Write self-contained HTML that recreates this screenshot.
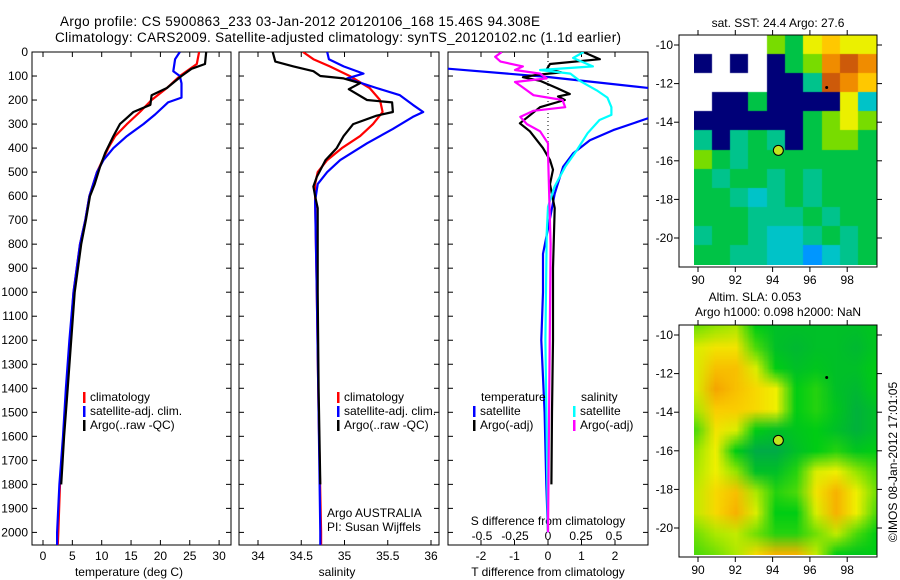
<!DOCTYPE html>
<html><head><meta charset="utf-8">
<style>
html,body{margin:0;padding:0;background:#fff;}
#wrap{position:relative;width:900px;height:580px;overflow:hidden;font-family:"Liberation Sans",Arial,sans-serif;}
svg{position:absolute;left:0;top:0;}
canvas{position:absolute;}
text{font-family:"Liberation Sans",Arial,sans-serif;font-size:12px;fill:#000;}
</style></head>
<body>
<div id="wrap">
<canvas id="map1" width="183" height="230" style="left:694px;top:35px;width:183px;height:230px"></canvas>
<canvas id="map2" width="183" height="230" style="left:694px;top:325px;width:183px;height:230px"></canvas>
<svg id="svg" width="900" height="580"></svg>
</div>
<script>
// ---------- data ----------
const tempClimDepth = [0,50,100,150,200,250,300,350,400,500,600,700,800,1000,1200,1400,1600,1800,2000,2060];
const tempClim      = [26.6,26.2,23.3,21.1,18.5,16.5,14.3,12.3,11.1,9.2,7.9,7.2,6.3,5.2,4.6,4.0,3.5,2.9,2.6,2.5];
const tempSatDepth  = [0,30,80,100,130,190,210,260,300,350,400,450,500,600,700,800,1000,1200,1400,1600,1800,2000,2060];
const tempSat       = [23.3,22.5,22.2,23.3,23.6,23.6,21.3,19.1,17.1,14.3,12.0,10.3,9.2,7.9,7.2,6.3,5.2,4.5,3.9,3.4,2.8,2.4,2.4];
const tempArgoDepth = [0,50,70,100,150,180,220,250,300,350,420,480,550,600,700,800,1000,1200,1400,1600,1800];
const tempArgo      = [27.8,27.6,25.3,23.6,21.1,18.5,18.3,15.4,13.1,12.0,10.6,9.7,8.8,8.0,7.3,6.5,5.4,4.8,4.2,3.6,3.1];

const salClimDepth = [0,30,60,100,150,200,250,300,350,400,450,500,550,600,1000,1500,2000,2060];
const salClim      = [34.52,34.64,34.83,35.06,35.29,35.41,35.44,35.33,35.18,34.97,34.80,34.69,34.66,34.66,34.68,34.70,34.73,34.73];
const salSatDepth  = [0,30,60,90,110,150,180,220,250,270,320,380,450,500,550,620,1000,1500,2000,2060];
const salSat       = [34.80,34.82,34.99,35.22,35.03,35.37,35.64,35.79,35.91,35.79,35.56,35.26,34.95,34.80,34.69,34.66,34.68,34.70,34.72,34.72];
const salArgoDepth = [0,40,60,80,100,110,130,155,200,210,250,265,300,350,400,450,520,560,600,650,700,1000,1400,1800];
const salArgo      = [34.17,34.20,34.41,34.64,34.72,34.99,35.18,35.05,35.26,35.55,35.56,35.37,35.10,34.99,34.91,34.78,34.68,34.64,34.66,34.69,34.69,34.69,34.70,34.72];

const dTSatDepth  = [67,104,150,200,275,325,367,422,478,590,700,840,1000,1200,1500,1800,2000];
const dTSat       = [-3.2,0.0,3.0,4.5,3.0,1.95,1.25,0.75,0.45,0.2,0.05,-0.15,-0.15,-0.2,-0.1,-0.05,0.0];
const dSSatDepth  = [0,25,60,75,90,120,160,190,230,262,283,338,408,478,560,645,755,1200,2000];
const dSSat       = [0.27,0.19,0.34,-0.06,0.17,0.24,0.37,0.45,0.48,0.48,0.39,0.30,0.22,0.13,0.05,0.0,-0.01,-0.02,0.0];
const dTArgoDepth = [0,30,50,70,85,95,105,120,150,175,185,200,230,297,330,400,450,490,550,650,900,1200,1500,1800];
const dTArgo      = [1.05,1.55,0.06,-0.03,0.4,-0.33,-0.75,-0.24,0.26,0.65,0.3,0.5,-0.24,-0.84,-0.54,-0.15,0.06,0.15,0.06,0.2,0.15,0.15,0.12,0.1];
const dSArgoDepth = [0,20,40,60,75,90,110,125,140,160,180,200,230,245,270,300,330,380,420,800,1400,2000];
const dSArgo      = [-0.35,-0.4,-0.36,-0.19,-0.25,-0.06,-0.01,-0.25,-0.21,-0.16,-0.11,0.11,0.13,-0.11,-0.21,-0.16,-0.06,0.0,0.0,0.02,0.01,0.0];

const depthTicks = [0,100,200,300,400,500,600,700,800,900,1000,1100,1200,1300,1400,1500,1600,1700,1800,1900,2000];
const tempTicks = [0,5,10,15,20,25,30];
const salTicks = [34,34.5,35,35.5,36];
const salTickLabels = ["34","34.5","35","35.5","36"];
const dTTicks = [-2,-1,0,1,2];
const dSTicks = [-0.5,-0.25,0,0.25,0.5];
const dSTickLabels = ["-0.5","-0.25","0","0.25","0.5"];
const lonTicks = [90,92,94,96,98];
const latTicks = [-10,-12,-14,-16,-18,-20];

// SST map grid (rows lat -9.5 -> -21.4, cols lon 89.8 -> 99.6); W=no data, N=navy, 0-9 colour index
const sstRows = ["WWWW435655","NWNWN34787","WWWWNN2876","WNN3NNNN51","NNNNNN3454","2N232N3443",
                 "4323333333","3233232333","3321232333","3332223233","2332112323","3322110123"];
// SLA map grid values 0..1
const slaRows = [
 [0.45,0.5,0.55,0.3,0.2,0.2,0.2,0.2,0.2,0.25],
 [0.65,0.75,0.75,0.4,0.2,0.15,0.2,0.2,0.15,0.25],
 [0.65,0.9,0.9,0.65,0.3,0.2,0.25,0.2,0.2,0.3],
 [0.65,1.0,0.9,0.8,0.7,0.3,0.35,0.2,0.15,0.3],
 [0.55,0.85,0.85,0.8,0.7,0.3,0.35,0.25,0.1,0.2],
 [0.4,0.75,0.65,0.3,0.2,0.25,0.3,0.2,0.1,0.2],
 [0.5,0.7,0.3,0.05,0.05,0.2,0.3,0.35,0.25,0.3],
 [0.55,0.7,0.5,0.2,0.2,0.35,0.65,0.7,0.5,0.4],
 [0.6,0.8,0.9,0.55,0.35,0.4,0.75,0.95,0.7,0.45],
 [0.6,0.8,0.95,0.65,0.3,0.3,0.65,0.95,0.7,0.4],
 [0.45,0.55,0.6,0.45,0.35,0.35,0.45,0.6,0.4,0.3],
 [0.4,0.45,0.55,0.8,0.95,0.95,0.6,0.3,0.25,0.3]];
const argoLon = 94.308, argoLat = -15.46;

// ---------- scales ----------
const yD = d => 52 + d*0.2402;
const xT = t => 43 + t*5.87;
const xS = s => 258 + (s-34)*86.5;
const xDT = v => 548 + v*33.5;
const xDS = v => 548 + v*132;
const xLon = l => 698 + (l-90)*18.65;
const yLat1 = la => 45 + (-10-la)*19.3;
const yLat2 = la => 335 + (-10-la)*19.3;

const NS = "http://www.w3.org/2000/svg";
const svg = document.getElementById('svg');
function mk(tag, attrs, name, parent){
  const el = document.createElementNS(NS, tag);
  for (const k in attrs) el.setAttribute(k, attrs[k]);
  
  
  (parent||svg).appendChild(el);
  return el;
}
function txt(x,y,s,name,anchor,size,extra){
  const a = {x:x,y:y,'text-anchor':anchor||'start'};
  if (size) a['style']='font-size:'+size+'px';
  if (extra) for (const k in extra) a[k]=extra[k];
  const t = mk('text', a, name);
  t.textContent = s;
  return t;
}
const defs = mk('defs',{},'clip-defs');
function clip(id,x,y,w,h){ const c = mk('clipPath',{id:id},'clip-'+id,defs); mk('rect',{x:x,y:y,width:w,height:h},'clip-rect',c); }
clip('c1',32,52,199,493); clip('c2',239,52,200,493); clip('c3',448,52,200,493);

function line(depths, vals, xf, color, name, cid, w){
  let d = '';
  for (let i=0;i<depths.length;i++) d += (i?'L':'M') + xf(vals[i]).toFixed(1) + ' ' + yD(depths[i]).toFixed(1);
  mk('path',{d:d,fill:'none',stroke:color,'stroke-width':w||2.2,'clip-path':'url(#'+cid+')','stroke-linejoin':'round'},name);
}

// ---------- titles ----------
txt(60,26,"Argo profile: CS 5900863_233 03-Jan-2012 20120106_168 15.46S 94.308E",'title-line-1','start',13.5,{textLength:480});
txt(55,42,"Climatology: CARS2009. Satellite-adjusted climatology: synTS_20120102.nc (1.1d earlier)",'title-line-2','start',13.5,{textLength:566});

// ---------- profile panels ----------
const panels = [[32,199,'c1'],[239,200,'c2'],[448,200,'c3']];
panels.forEach((p,i)=>{
  mk('rect',{x:p[0],y:52,width:p[1],height:493,fill:'none',stroke:'#000','stroke-width':1},'profile-panel-frame');
  depthTicks.forEach(d=>{
    mk('line',{x1:p[0],x2:p[0]+5,y1:yD(d),y2:yD(d),stroke:'#000'},'depth-tick');
    mk('line',{x1:p[0]+p[1]-5,x2:p[0]+p[1],y1:yD(d),y2:yD(d),stroke:'#000'},'depth-tick');
  });
});
depthTicks.forEach(d=> txt(28,yD(d)+4,String(d),'depth-tick-label','end'));

tempTicks.forEach(t=>{
  mk('line',{x1:xT(t),x2:xT(t),y1:545,y2:540,stroke:'#000'},'temp-tick');
  mk('line',{x1:xT(t),x2:xT(t),y1:52,y2:57,stroke:'#000'},'temp-tick-top');
  txt(xT(t),560,String(t),'temp-tick-label','middle');
});
txt(129,576,"temperature (deg C)",'temp-axis-title','middle');
salTicks.forEach((s,i)=>{
  mk('line',{x1:xS(s),x2:xS(s),y1:545,y2:540,stroke:'#000'},'sal-tick');
  mk('line',{x1:xS(s),x2:xS(s),y1:52,y2:57,stroke:'#000'},'sal-tick-top');
  txt(xS(s),560,salTickLabels[i],'sal-tick-label','middle');
});
txt(337,576,"salinity",'sal-axis-title','middle');
dTTicks.forEach(v=>{
  mk('line',{x1:xDT(v),x2:xDT(v),y1:545,y2:540,stroke:'#000'},'dT-tick');
  mk('line',{x1:xDT(v),x2:xDT(v),y1:52,y2:57,stroke:'#000'},'dT-tick-top');
  txt(xDT(v),560,String(v),'dT-tick-label','middle');
});
dSTicks.forEach((v,i)=> txt(xDS(v),540,dSTickLabels[i],'dS-tick-label','middle'));
txt(548,525,"S difference from climatology",'dS-axis-title','middle');
txt(548,576,"T difference from climatology",'dT-axis-title','middle');
mk('line',{x1:548,x2:548,y1:53,y2:143,stroke:'#000','stroke-dasharray':'1 3'},'zero-dotted-line');

line(tempClimDepth,tempClim,xT,'#f00','temp-climatology-line','c1');
line(tempSatDepth,tempSat,xT,'#00f','temp-satellite-line','c1');
line(tempArgoDepth,tempArgo,xT,'#000','temp-argo-line','c1');
line(salClimDepth,salClim,xS,'#f00','sal-climatology-line','c2');
line(salSatDepth,salSat,xS,'#00f','sal-satellite-line','c2');
line(salArgoDepth,salArgo,xS,'#000','sal-argo-line','c2');
line(dTSatDepth,dTSat,xDT,'#00f','dT-satellite-line','c3');
line(dTArgoDepth,dTArgo,xDT,'#000','dT-argo-line','c3');
line(dSSatDepth,dSSat,xDS,'#0ff','dS-satellite-line','c3');
line(dSArgoDepth,dSArgo,xDS,'#f0f','dS-argo-line','c3');

function legend(x,y,col,label){
  mk('rect',{x:x,y:y-9,width:2.5,height:11,fill:col},'legend-swatch');
  txt(x+7,y,label,'legend-entry');
}
legend(83,401,'#f00','climatology'); legend(83,415,'#00f','satellite-adj. clim.'); legend(83,429,'#000','Argo(..raw -QC)');
legend(337,401,'#f00','climatology'); legend(337,415,'#00f','satellite-adj. clim.'); legend(337,429,'#000','Argo(..raw -QC)');
txt(327,517,"Argo AUSTRALIA",'credit-argo-australia');
txt(327,531,"PI: Susan Wijffels",'credit-pi');
txt(481,401,"temperature",'legend-temp-heading'); txt(581,401,"salinity",'legend-sal-heading');
legend(473,415,'#00f','satellite'); legend(473,429,'#000','Argo(-adj)');
legend(573,415,'#0ff','satellite'); legend(573,429,'#f0f','Argo(-adj)');

// ---------- maps ----------
const sstPal = {'0':'rgb(0,150,255)','1':'rgb(0,195,200)','2':'rgb(0,195,140)','3':'rgb(0,195,70)','4':'rgb(120,220,0)',
  '5':'rgb(235,240,0)','6':'rgb(255,200,0)','7':'rgb(240,140,0)','8':'rgb(205,90,10)','9':'rgb(190,0,0)','N':'rgb(0,0,120)','W':'#fff'};
(function(){
  const c = document.getElementById('map1').getContext('2d');
  const rows = sstRows.length, cols = sstRows[0].length;
  const cw = 183/cols, ch = 230/rows;
  for (let r=0;r<rows;r++) for (let k=0;k<cols;k++){
    c.fillStyle = sstPal[sstRows[r][k]];
    c.fillRect(Math.floor(k*cw),Math.floor(r*ch),Math.ceil(cw)+1,Math.ceil(ch)+1);
  }
})();
function slaColor(v){
  const st=[[0,[0,165,80]],[0.3,[0,205,20]],[0.5,[150,230,0]],[0.7,[240,240,0]],[0.85,[250,205,0]],[1,[245,165,0]]];
  for (let i=1;i<st.length;i++) if (v<=st[i][0]){
    const a=st[i-1],b=st[i],f=(v-a[0])/(b[0]-a[0]);
    return 'rgb('+a[1].map((x,j)=>Math.round(x+(b[1][j]-x)*f)).join(',')+')';
  }
  return 'rgb(245,165,0)';
}
(function(){
  const off = document.createElement('canvas'); off.width=10; off.height=12;
  const o = off.getContext('2d');
  slaRows.forEach((row,r)=>row.forEach((v,k)=>{ o.fillStyle=slaColor(v); o.fillRect(k,r,1,1); }));
  const c = document.getElementById('map2').getContext('2d');
  c.imageSmoothingEnabled = true;
  c.drawImage(off,0,0,10,12,-9,-9,201,248);
})();
[[35,yLat1,'sst'],[325,yLat2,'sla']].forEach(m=>{
  const top=m[0], yf=m[1];
  mk('rect',{x:679,y:top,width:198,height:232,fill:'none',stroke:'#000'},m[2]+'-map-frame');
  lonTicks.forEach(l=>{
    mk('line',{x1:xLon(l),x2:xLon(l),y1:top,y2:top-5,stroke:'#000'},m[2]+'-lon-tick-top');
    mk('line',{x1:xLon(l),x2:xLon(l),y1:top+232,y2:top+237,stroke:'#000'},m[2]+'-lon-tick');
    txt(xLon(l),top+249,String(l),m[2]+'-lon-label','middle');
  });
  latTicks.forEach(la=>{
    mk('line',{x1:674,x2:679,y1:yf(la),y2:yf(la),stroke:'#000'},m[2]+'-lat-tick');
    mk('line',{x1:877,x2:882,y1:yf(la),y2:yf(la),stroke:'#000'},m[2]+'-lat-tick-right');
    txt(673,yf(la)+4,String(la),m[2]+'-lat-label','end');
  });
  mk('circle',{cx:xLon(argoLon),cy:yf(argoLat),r:5,fill:'rgb(190,230,30)',stroke:'#000','stroke-width':1},m[2]+'-argo-marker');
});
mk('circle',{cx:xLon(96.9),cy:yLat1(-12.2),r:1.5,fill:'#000'},'sst-float-dot');
mk('circle',{cx:xLon(96.9),cy:yLat2(-12.2),r:1.5,fill:'#000'},'sla-float-dot');
txt(778,27,"sat. SST: 24.4  Argo: 27.6",'sst-map-title','middle');
txt(755,301,"Altim. SLA: 0.053",'sla-map-title','middle');
txt(778,316,"Argo h1000: 0.098 h2000: NaN",'sla-map-subtitle','middle');
txt(0,0,"©IMOS 08-Jan-2012 17:01:05",'imos-timestamp','middle',12,{transform:'translate(897,462) rotate(-90)'});
</script>
</body></html>
